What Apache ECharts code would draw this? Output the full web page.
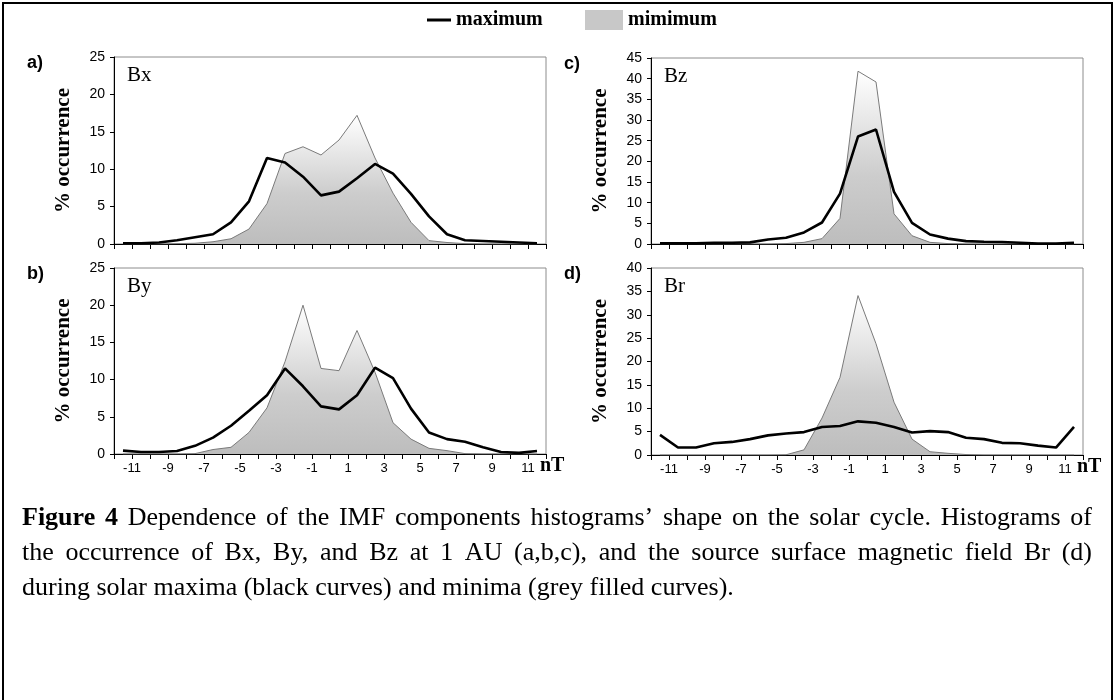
<!DOCTYPE html>
<html>
<head>
<meta charset="utf-8">
<script src="https://cdn.jsdelivr.net/npm/echarts@6/dist/echarts.min.js"></script>
<style>
  html, body { margin: 0; background: #fff; }
  #main { width: 1117px; height: 700px; }
</style>
</head>
<body>
<div id="main"></div>
<script>
// bin centres in nT (histogram bins of width 1 nT)
var bins = [-11.5, -10.5, -9.5, -8.5, -7.5, -6.5, -5.5, -4.5, -3.5, -2.5, -1.5, -0.5,
            0.5, 1.5, 2.5, 3.5, 4.5, 5.5, 6.5, 7.5, 8.5, 9.5, 10.5, 11.5];

// % occurrence, solar maximum (black) / minimum (grey)
var bxMax = [0.1, 0.1, 0.2, 0.5, 0.9, 1.3, 2.9, 5.7, 11.5, 10.9, 9.0, 6.5, 7.0, 8.8, 10.7, 9.4, 6.7, 3.7, 1.3, 0.5, 0.4, 0.3, 0.2, 0.1];
var bxMin = [0, 0, 0, 0.05, 0.1, 0.3, 0.7, 2.0, 5.4, 12.1, 13.0, 11.9, 13.9, 17.2, 11.5, 6.8, 2.9, 0.45, 0.2, 0.05, 0, 0, 0, 0];
var byMax = [0.45, 0.27, 0.27, 0.4, 1.1, 2.2, 3.8, 5.8, 7.9, 11.5, 9.1, 6.4, 6.0, 7.9, 11.6, 10.2, 6.1, 2.9, 2.0, 1.65, 0.9, 0.27, 0.15, 0.4];
var byMin = [0, 0, 0, 0, 0.05, 0.6, 0.9, 2.9, 6.2, 12.4, 20.0, 11.5, 11.2, 16.6, 11.0, 4.2, 2.0, 0.76, 0.45, 0.05, 0, 0, 0, 0];
var bzMax = [0.15, 0.15, 0.15, 0.3, 0.3, 0.4, 1.1, 1.5, 2.8, 5.2, 12.2, 26.0, 27.7, 12.6, 5.1, 2.3, 1.3, 0.7, 0.55, 0.5, 0.3, 0.1, 0.1, 0.3];
var bzMin = [0, 0, 0, 0, 0, 0, 0, 0.1, 0.4, 1.3, 6.2, 41.8, 39.2, 7.3, 2.0, 0.4, 0.1, 0, 0, 0, 0, 0, 0, 0];
var brMax = [4.3, 1.6, 1.6, 2.5, 2.8, 3.4, 4.2, 4.6, 4.9, 6.0, 6.2, 7.2, 6.9, 6.0, 4.8, 5.1, 4.9, 3.7, 3.4, 2.6, 2.5, 2.0, 1.6, 6.0];
var brMin = [0, 0, 0, 0, 0, 0, 0, 0.05, 1.1, 7.9, 16.6, 34.1, 23.8, 11.3, 3.4, 0.7, 0.36, 0.1, 0, 0, 0, 0, 0, 0];

var panelNames = ['Bx', 'By', 'Bz', 'Br'];
var panelTags = ['a)', 'b)', 'c)', 'd)'];
var yMax = [25, 25, 45, 40];
var maxData = [bxMax, byMax, bzMax, brMax];
var minData = [bxMin, byMin, bzMin, brMin];

var caption = [
  'Figure 4 Dependence of the IMF components histograms’ shape on the solar cycle. Histograms of',
  'the occurrence of Bx, By, and Bz at 1 AU (a,b,c), and the source surface magnetic field Br (d)',
  'during solar maxima (black curves) and minima (grey filled curves).'
];

var SERIF = '"Liberation Serif", "Times New Roman", serif';
var SANS = '"Liberation Sans", Arial, sans-serif';

// plot rectangles: a, b (left column), c, d (right column)
var boxes = [
  { left: 114, top: 57, width: 432, height: 187 },
  { left: 114, top: 268, width: 432, height: 186 },
  { left: 651, top: 58, width: 432, height: 186 },
  { left: 651, top: 268, width: 432, height: 187 }
];

function pairs(vals) {
  return bins.map(function (b, i) { return [b, vals[i]]; });
}

var grids = [], xAxes = [], yAxes = [], series = [], graphics = [];

boxes.forEach(function (b, i) {
  grids.push({
    left: b.left, top: b.top, width: b.width, height: b.height,
    containLabel: false, outerBoundsMode: 'none',
    show: true, borderColor: '#8c8c8c', borderWidth: 1, backgroundColor: '#fff'
  });
  var bottomRow = (i === 1 || i === 3);
  xAxes.push({
    type: 'value', gridIndex: i, min: -12, max: 12, interval: 1,
    name: bottomRow ? 'nT' : '',
    nameLocation: 'end', nameGap: -6,
    nameTextStyle: { fontFamily: SERIF, fontWeight: 'bold', fontSize: 20, color: '#000',
                     verticalAlign: 'top', padding: [2, 0, 0, 0] },
    axisLine: { show: true, onZero: false, lineStyle: { color: '#000', width: 1 } },
    axisTick: { show: true, inside: false, length: 5, lineStyle: { color: '#000' } },
    splitLine: { show: false },
    axisLabel: {
      show: bottomRow, margin: 8, color: '#000', fontFamily: SANS, fontSize: 13,
      formatter: function (v) { return Math.abs(v) % 2 === 1 ? String(v) : ''; }
    }
  });
  yAxes.push({
    type: 'value', gridIndex: i, min: 0, max: yMax[i], interval: 5,
    name: '% occurrence', nameLocation: 'middle', nameRotate: 90, nameGap: 40,
    nameTextStyle: { fontFamily: SERIF, fontWeight: 'bold', fontSize: 21, color: '#000' },
    axisLine: { show: true, onZero: false, lineStyle: { color: '#000', width: 1 } },
    axisTick: { show: true, inside: false, length: 4, lineStyle: { color: '#000' } },
    splitLine: { show: false },
    axisLabel: { margin: 9, color: '#000', fontFamily: SANS, fontSize: 14 }
  });
  series.push({
    name: 'mimimum', type: 'line', xAxisIndex: i, yAxisIndex: i,
    data: pairs(minData[i]), symbol: 'none', z: 2,
    lineStyle: { color: '#7a7a7a', width: 1 },
    itemStyle: { color: '#c8c8c8' },
    areaStyle: {
      opacity: 1,
      color: new echarts.graphic.LinearGradient(0, 0, 0, 1, [
        { offset: 0, color: '#ffffff' },
        { offset: 0.6, color: '#cdcdcd' },
        { offset: 1, color: '#bdbdbd' }
      ])
    },
    emphasis: { disabled: true }
  });
  series.push({
    name: 'maximum', type: 'line', xAxisIndex: i, yAxisIndex: i,
    data: pairs(maxData[i]), symbol: 'none', z: 3,
    lineStyle: { color: '#000', width: 2.6 },
    itemStyle: { color: '#000' },
    emphasis: { disabled: true }
  });
  // component name inside plot and panel tag
  graphics.push({
    type: 'text', x: b.left + 13, y: b.top + 18, silent: true,
    style: { text: panelNames[i], font: '21px ' + SERIF, fill: '#000', verticalAlign: 'middle' }
  });
  graphics.push({
    type: 'text', x: b.left - 87, y: b.top + 6, silent: true,
    style: { text: panelTags[i], font: 'bold 18px ' + SANS, fill: '#000', verticalAlign: 'middle' }
  });
});

// figure caption, first two lines justified
var ctx = document.createElement('canvas').getContext('2d');
var capFont = '26px ' + SERIF;
var capBold = 'bold 26px ' + SERIF;
var capLeft = 22, capRight = 1092;
var capY = [518, 553, 588];
caption.forEach(function (line, li) {
  var words = line.split(' ');
  var fonts = words.map(function (w, wi) { return (li === 0 && wi < 2) ? capBold : capFont; });
  var widths = words.map(function (w, wi) { ctx.font = fonts[wi]; return ctx.measureText(w).width; });
  var total = widths.reduce(function (a, c) { return a + c; }, 0);
  ctx.font = capFont;
  var gap = li < 2 ? (capRight - capLeft - total) / (words.length - 1) : ctx.measureText(' ').width;
  var x = capLeft;
  words.forEach(function (w, wi) {
    graphics.push({
      type: 'text', x: x, y: capY[li], silent: true,
      style: { text: w, font: fonts[wi], fill: '#000', verticalAlign: 'middle' }
    });
    x += widths[wi] + gap;
  });
});

// outer frame
graphics.push({
  type: 'rect', silent: true, z: -1,
  shape: { x: 3, y: 3, width: 1109, height: 720 },
  style: { fill: 'none', stroke: '#000', lineWidth: 2 }
});

var chart = echarts.init(document.getElementById('main'));
chart.setOption({
  animation: false,
  backgroundColor: '#fff',
  legend: [
    {
      left: 422, top: 5, icon: 'rect', itemWidth: 24, itemHeight: 3, itemGap: 0,
      data: [{ name: 'maximum', itemStyle: { color: '#000' } }],
      textStyle: { fontFamily: SERIF, fontWeight: 'bold', fontSize: 20, color: '#000', padding: [0, 0, 0, 0] },
      selectedMode: false
    },
    {
      left: 580, top: 5, icon: 'rect', itemWidth: 38, itemHeight: 20, itemGap: 0,
      data: [{ name: 'mimimum', itemStyle: { color: '#c8c8c8', borderWidth: 0 } }],
      textStyle: { fontFamily: SERIF, fontWeight: 'bold', fontSize: 20, color: '#000', padding: [0, 0, 0, 0] },
      selectedMode: false
    }
  ],
  grid: grids,
  xAxis: xAxes,
  yAxis: yAxes,
  series: series,
  graphic: graphics
});
</script>
</body>
</html>
